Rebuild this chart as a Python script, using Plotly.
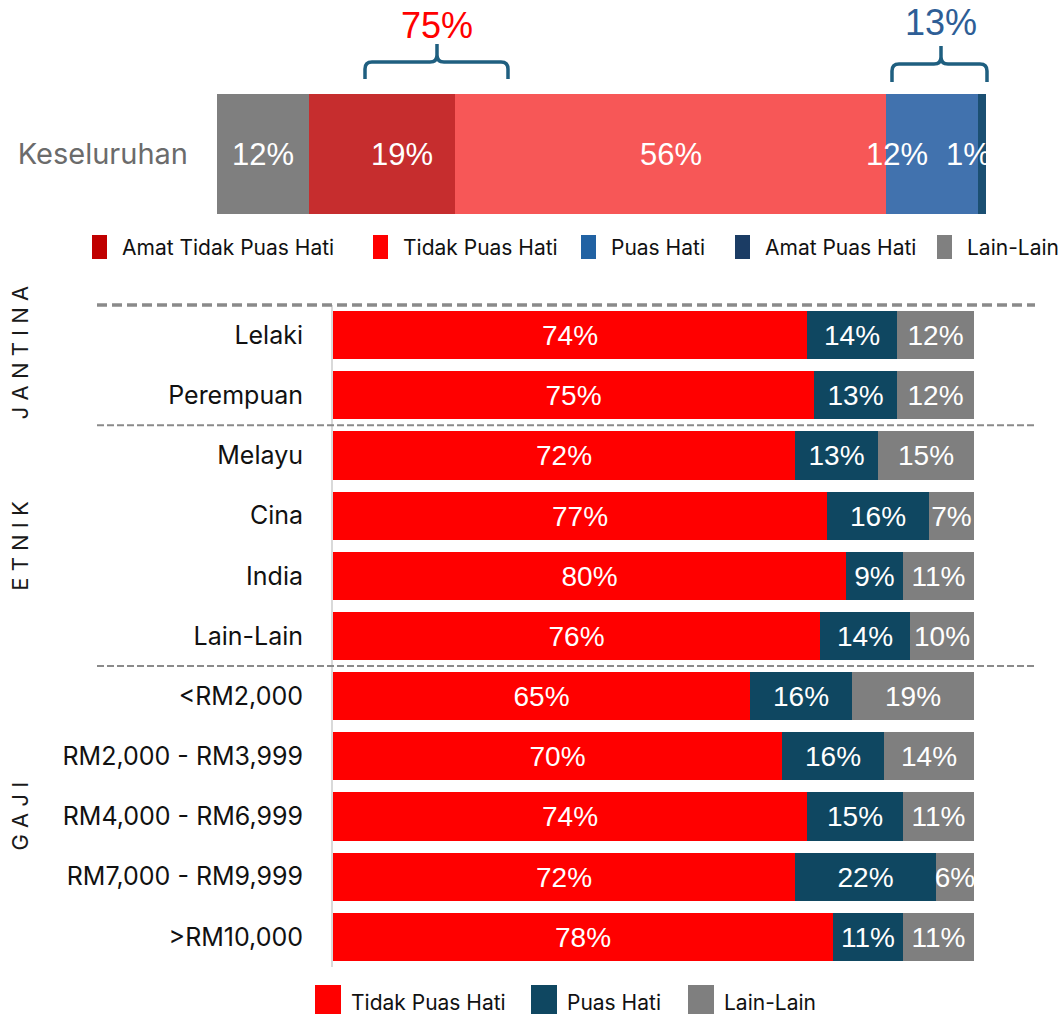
import plotly.graph_objects as go

W, H = 1063, 1014

# ---- Overall satisfaction (top stacked bar) ----
overall_label = "Keseluruhan"
overall_series = ["Lain-Lain", "Amat Tidak Puas Hati", "Tidak Puas Hati", "Puas Hati", "Amat Puas Hati"]
overall_values = [12, 19, 56, 12, 1]
overall_colors = ["#7F7F7F", "#C62D2E", "#F75757", "#4172AE", "#1B4F72"]
overall_label_shift = [0, 20, 0, -35, -14]

# summary brackets above the bar
summary_values = [75, 13]
summary_colors = ["#FF0000", "#2E5E96"]

# top legend
top_legend_names = ["Amat Tidak Puas Hati", "Tidak Puas Hati", "Puas Hati", "Amat Puas Hati", "Lain-Lain"]
top_legend_colors = ["#C00000", "#FF0000", "#2162A3", "#1B3C64", "#808080"]

# ---- Breakdown by group (bottom chart) ----
categories = ["Lelaki", "Perempuan", "Melayu", "Cina", "India", "Lain-Lain",
              "<RM2,000", "RM2,000 - RM3,999", "RM4,000 - RM6,999",
              "RM7,000 - RM9,999", ">RM10,000"]
tidak_puas = [74, 75, 72, 77, 80, 76, 65, 70, 74, 72, 78]
puas = [14, 13, 13, 16, 9, 14, 16, 16, 15, 22, 11]
lain = [12, 12, 15, 7, 11, 10, 19, 14, 11, 6, 11]
series_names = ["Tidak Puas Hati", "Puas Hati", "Lain-Lain"]
series_colors = ["#FF0000", "#0F4761", "#7F7F7F"]

groups = ["J A N T I N A", "E T N I K", "G A J I"]
group_rows = [(0, 1), (2, 5), (6, 10)]


def px(x):
    return x / W


def py(y):
    return 1 - y / H


# bottom panel vertical geometry
y2_domain = [py(967), py(305)]
y2_range = [len(categories) - 0.5, -0.5]


def row_to_paper(v):
    """Map a row coordinate of the bottom panel to paper units."""
    frac = (v - y2_range[0]) / (y2_range[1] - y2_range[0])
    return y2_domain[0] + frac * (y2_domain[1] - y2_domain[0])


fig = go.Figure()

# top bar
for name, val, col in zip(overall_series, overall_values, overall_colors):
    fig.add_trace(go.Bar(
        y=[0], x=[val], name=name, orientation="h", width=1,
        marker=dict(color=col, line=dict(width=0)),
        xaxis="x", yaxis="y", showlegend=False, hoverinfo="skip"))

# bottom bars
for name, vals, col in zip(series_names, [tidak_puas, puas, lain], series_colors):
    fig.add_trace(go.Bar(
        y=list(range(len(categories))), x=vals, name=name, orientation="h", width=0.8,
        marker=dict(color=col, line=dict(width=0)),
        text=[f"{v}%" for v in vals], textposition="inside", insidetextanchor="middle",
        textangle=0, textfont=dict(family="Liberation Sans", size=28, color="white"),
        xaxis="x2", yaxis="y2", showlegend=False, hoverinfo="skip"))

annotations = []
shapes = []

# labels on the top bar
cum = 0
for val, shift in zip(overall_values, overall_label_shift):
    annotations.append(dict(
        x=cum + val / 2, y=0, xref="x", yref="y", text=f"{val}%", showarrow=False,
        xshift=shift, font=dict(family="Liberation Sans", size=31, color="white")))
    cum += val

# brackets and their totals
brace_color = "#1F5F80"
brace_geom = [
    dict(x0=365, x1=508, xc=437, ybot=79, ymid=62, ytop=44, ty=25),
    dict(x0=892, x1=987, xc=941, ybot=82, ymid=64, ytop=46, ty=22),
]
for g, val, col in zip(brace_geom, summary_values, summary_colors):
    r = 7
    pts = [
        ("M", [(g["x0"], g["ybot"])]),
        ("L", [(g["x0"], g["ymid"] + r)]),
        ("Q", [(g["x0"], g["ymid"]), (g["x0"] + r, g["ymid"])]),
        ("L", [(g["xc"] - r, g["ymid"])]),
        ("Q", [(g["xc"], g["ymid"]), (g["xc"], g["ymid"] - r)]),
        ("L", [(g["xc"], g["ytop"])]),
        ("M", [(g["xc"], g["ymid"] - r)]),
        ("Q", [(g["xc"], g["ymid"]), (g["xc"] + r, g["ymid"])]),
        ("L", [(g["x1"] - r, g["ymid"])]),
        ("Q", [(g["x1"], g["ymid"]), (g["x1"], g["ymid"] + r)]),
        ("L", [(g["x1"], g["ybot"])]),
    ]
    path = " ".join(cmd + " " + " ".join(f"{px(a):.5f},{py(b):.5f}" for a, b in p) for cmd, p in pts)
    shapes.append(dict(type="path", path=path, xref="paper", yref="paper",
                       line=dict(color=brace_color, width=3.5)))
    annotations.append(dict(
        x=px(g["xc"]), y=py(g["ty"]), xref="paper", yref="paper", text=f"{val}%",
        showarrow=False, xanchor="center", yanchor="middle",
        font=dict(family="Liberation Sans", size=36, color=col)))

# top legend
top_swatch_x = [92, 373, 581, 735, 937]
for name, col, sx in zip(top_legend_names, top_legend_colors, top_swatch_x):
    shapes.append(dict(type="rect", xref="paper", yref="paper",
                       x0=px(sx), x1=px(sx + 15), y0=py(259), y1=py(235),
                       fillcolor=col, line=dict(width=0)))
    annotations.append(dict(x=px(sx + 28), y=py(247), xref="paper", yref="paper",
                            text=name, showarrow=False, xanchor="left", yanchor="middle",
                            font=dict(family="Inter", size=21, color="#111111")))

# bottom legend
bottom_swatch_x = [315, 531, 688]
for name, col, sx in zip(series_names, series_colors, bottom_swatch_x):
    shapes.append(dict(type="rect", xref="paper", yref="paper",
                       x0=px(sx), x1=px(sx + 26), y0=py(1014), y1=py(985),
                       fillcolor=col, line=dict(width=0)))
    annotations.append(dict(x=px(sx + 34), y=py(1002), xref="paper", yref="paper",
                            text=name, showarrow=False, xanchor="left", yanchor="middle",
                            font=dict(family="Inter", size=21, color="#111111")))

# dashed separators between groups
for i, (start, end) in enumerate(group_rows):
    yp = row_to_paper(start - 0.5)
    shapes.append(dict(type="line", xref="paper", yref="paper",
                       x0=px(97), x1=px(1035), y0=yp, y1=yp,
                       line=dict(color="#8A8A8A", width=3.5 if i == 0 else 2,
                                 dash="10px,5px" if i == 0 else "7px,3px")))

# rotated group titles
group_shift = [12, 0, 0]
for name, (start, end), ys in zip(groups, group_rows, group_shift):
    annotations.append(dict(x=px(20), y=(start + end) / 2, xref="paper", yref="y2",
                            text=name, showarrow=False, textangle=-90, yshift=ys,
                            xanchor="center", yanchor="middle",
                            font=dict(family="Inter", size=22, color="#1A1A1A")))

fig.update_layout(
    width=W, height=H, margin=dict(l=0, r=0, t=0, b=0),
    paper_bgcolor="white", plot_bgcolor="white",
    barmode="stack", bargap=0,
    uniformtext=dict(minsize=28, mode="show"),
    xaxis=dict(domain=[px(217), px(986)], range=[0, 100], showticklabels=False,
               showgrid=False, zeroline=False, fixedrange=True),
    yaxis=dict(domain=[py(214), py(94)], range=[-0.5, 0.5], tickvals=[0],
               ticktext=[overall_label], ticks="", ticklabelstandoff=28,
               tickfont=dict(family="Inter", size=29, color="#6B6B6B"),
               showgrid=False, zeroline=False, showline=False, fixedrange=True),
    xaxis2=dict(domain=[px(333), px(974)], range=[0, 100], showticklabels=False,
                showgrid=False, zeroline=False, anchor="y2", fixedrange=True),
    yaxis2=dict(domain=y2_domain, range=y2_range,
                tickvals=list(range(len(categories))), ticktext=categories,
                ticks="", ticklabelstandoff=23, anchor="x2",
                tickfont=dict(family="Inter", size=25, color="#111111"),
                showgrid=False, zeroline=False, showline=True, linecolor="#D9D9D9",
                linewidth=2, layer="below traces", fixedrange=True),
    shapes=shapes, annotations=annotations, showlegend=False,
)

fig.write_html("out.html")
